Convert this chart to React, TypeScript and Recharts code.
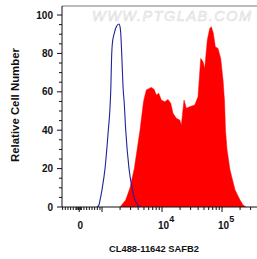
import { ComposedChart, Area, Line, XAxis, YAxis, ReferenceLine } from 'recharts';

// x positions are in display decades (log10 of intensity), y is relative cell count
const stainedPos = [3.3, 3.395, 3.467, 3.538, 3.633, 3.692, 3.738, 3.822, 3.867, 3.905, 3.945, 3.988, 4.045, 4.1, 4.145, 4.183, 4.238, 4.295, 4.322, 4.367, 4.405, 4.462, 4.545, 4.6, 4.645, 4.683, 4.712, 4.755, 4.795, 4.822, 4.855, 4.888, 4.933, 4.978, 5.017, 5.042, 5.058, 5.083, 5.133, 5.217, 5.3, 5.35, 5.4];
const stainedCount = [0, 3.6, 10, 20, 40, 55, 61, 62.3, 61.3, 58.3, 59.2, 55.7, 54.8, 56, 54, 48.8, 46.2, 45.3, 42.7, 55.7, 51.4, 52.2, 53.1, 57.4, 77.4, 75.7, 72.2, 87, 93, 93.9, 90.5, 83.5, 82.6, 77.4, 66.1, 55, 40, 30, 19.3, 8.9, 3.6, 1, 0];

const controlPos = [2.917, 2.95, 2.967, 3.005, 3.05, 3.105, 3.13, 3.145, 3.162, 3.172, 3.205, 3.24, 3.283, 3.3, 3.312, 3.328, 3.355, 3.367, 3.395, 3.45, 3.5, 3.55, 3.6, 3.633];
const controlCount = [0, 1.2, 3.6, 10, 20, 40, 50, 60, 80, 85, 90.6, 94, 95.3, 94, 90.6, 80, 60, 55.7, 40, 20, 10, 3.6, 1, 0];

const xMajor = [2.62, 3, 4, 5];
const xLabels: Record<string, string[]> = { '2.62': ['0'], '4': ['10', '4'], '5': ['10', '5'] };
const yLabels = [0, 20, 40, 60, 80, 100];

const X_MIN = 2.333;
const X_MAX = 5.583;
const Y_MAX = 104.7;

const stained = stainedPos.map((pos, i) => ({ pos, count: stainedCount[i] }));
const control = controlPos.map((pos, i) => ({ pos, count: controlCount[i] }));

// minor ticks: dense linear ticks near zero, log ticks per decade
const xMinor: number[] = [];
for (let v = X_MIN + 0.01; v < 2.98; v += 0.0445) xMinor.push(+v.toFixed(3));
[2.58, 2.6, 2.64].forEach((v) => xMinor.push(v));
[3, 4, 5].forEach((d) => {
  for (let k = 2; k <= 9; k++) {
    const v = d + Math.log10(k);
    if (v < X_MAX) xMinor.push(+v.toFixed(3));
  }
});
const xTicks = [...xMajor, ...xMinor].sort((a, b) => a - b);
const yTicks: number[] = [];
for (let v = 0; v <= 100; v += 5) yTicks.push(v);

const FONT = '"Liberation Sans", Arial, sans-serif';

const XTick = ({ x, y, payload }: any) => {
  const v = payload.value;
  const major = xMajor.includes(v);
  const lab = xLabels[String(v)];
  return (
    <g>
      <line x1={x} x2={x} y1={y} y2={y + (major ? 5 : 3)} stroke="#111" strokeWidth={1} />
      {lab && lab.length === 1 && (
        <text x={x + 1} y={y + 22} textAnchor="middle" fontSize={10} fontWeight="bold" fontFamily={FONT} fill="#111">{lab[0]}</text>
      )}
      {lab && lab.length === 2 && (
        <text x={x - 4} y={y + 22} textAnchor="start" fontSize={10} fontWeight="bold" fontFamily={FONT} fill="#111">
          {lab[0]}
          <tspan dy={-7} fontSize={9}>{lab[1]}</tspan>
        </text>
      )}
    </g>
  );
};

const YTick = ({ x, y, payload }: any) => {
  const v = payload.value;
  const major = yLabels.includes(v);
  return (
    <g>
      <line x1={x - (major ? 5 : 3)} x2={x} y1={y} y2={y} stroke="#111" strokeWidth={1} />
      {major && (
        <text x={x - 9} y={y + 3.5} textAnchor="end" fontSize={10} fontWeight="bold" fontFamily={FONT} fill="#111">{v}</text>
      )}
    </g>
  );
};

export default function App() {
  return (
    <div style={{ position: 'absolute', left: 0, top: 0, background: '#fff' }}>
      <ComposedChart width={257} height={259} margin={{ top: 6, right: 0, left: 0, bottom: 0 }}>
        <XAxis
          type="number"
          dataKey="pos"
          domain={[X_MIN, X_MAX]}
          allowDataOverflow
          ticks={xTicks}
          interval={0}
          tick={<XTick />}
          tickLine={false}
          tickSize={0}
          tickMargin={0}
          height={52}
          axisLine={{ stroke: '#111' }}
          label={{
            content: () => (
              <text x={154} y={251.5} textAnchor="middle" fontSize={9.4} fontWeight="bold" fontFamily={FONT} fill="#111">
                CL488-11642 SAFB2
              </text>
            ),
          }}
        />
        <YAxis
          type="number"
          domain={[0, Y_MAX]}
          allowDataOverflow
          ticks={yTicks}
          interval={0}
          tick={<YTick />}
          tickLine={false}
          tickSize={0}
          tickMargin={0}
          width={62}
          axisLine={{ stroke: '#111' }}
          label={{
            content: () => (
              <text x={19} y={105} transform="rotate(-90 19 105)" textAnchor="middle" fontSize={11.4} fontWeight="bold" fontFamily={FONT} fill="#111">
                Relative Cell Number
              </text>
            ),
          }}
        />
        <ReferenceLine
          y={Y_MAX}
          stroke="#777"
          strokeWidth={1}
          label={{
            content: () => (
              <text x={92} y={21} fontSize={14.5} fontStyle="italic" letterSpacing={1.5} fontFamily={FONT} fill="#f4f4f4" stroke="#dadada" strokeWidth={0.5}>
                WWW.PTGLAB.COM
              </text>
            ),
          }}
        />
        <Area
          data={stained}
          dataKey="count"
          type="linear"
          fill="#ff0000"
          fillOpacity={1}
          stroke="#ff0000"
          strokeWidth={0.5}
          isAnimationActive={false}
        />
        <Line
          data={control}
          dataKey="count"
          type="monotone"
          stroke="#22229a"
          strokeWidth={1.1}
          dot={false}
          isAnimationActive={false}
        />
      </ComposedChart>
    </div>
  );
}
